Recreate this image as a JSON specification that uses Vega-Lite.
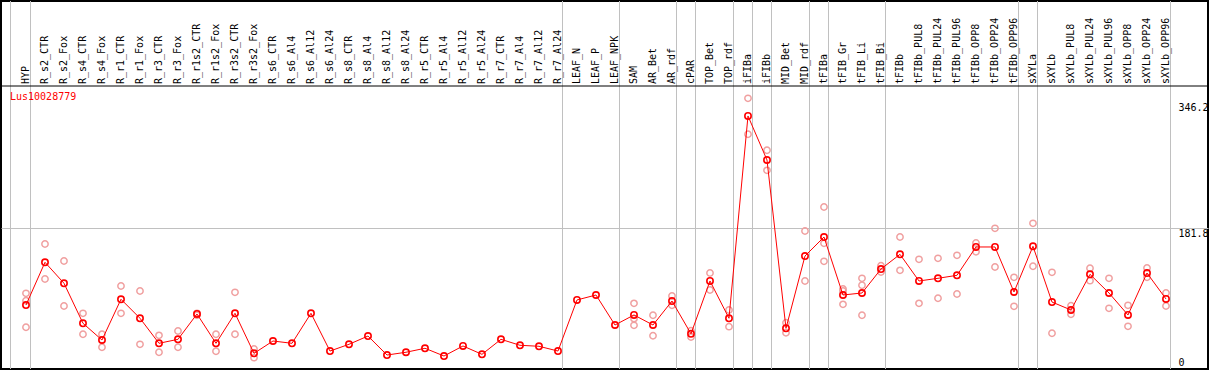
{
  "$schema": "https://vega.github.io/schema/vega-lite/v6.json",
  "width": 1207,
  "height": 368,
  "padding": 1,
  "autosize": {"type": "none"},
  "background": "white",
  "config": {"view": {"stroke": "black", "strokeWidth": 2}, "font": "DejaVu Sans Mono"},
  "title": {"text": "Lus10028779", "color": "red", "font": "DejaVu Sans Mono", "fontSize": 10, "fontWeight": "normal", "anchor": "start", "frame": "group", "orient": "top", "offset": -109, "baseline": "alphabetic", "dx": 9},
  "datasets": {
    "means": [
      {"tissue": "HYP", "value": 81.6},
      {"tissue": "R_s2_CTR", "value": 137.4},
      {"tissue": "R_s2_Fox", "value": 110.0},
      {"tissue": "R_s4_CTR", "value": 57.7},
      {"tissue": "R_s4_Fox", "value": 35.9},
      {"tissue": "R_r1_CTR", "value": 89.1},
      {"tissue": "R_r1_Fox", "value": 64.3},
      {"tissue": "R_r3_CTR", "value": 31.6},
      {"tissue": "R_r3_Fox", "value": 36.8},
      {"tissue": "R_r1s2_CTR", "value": 69.9},
      {"tissue": "R_r1s2_Fox", "value": 31.6},
      {"tissue": "R_r3s2_CTR", "value": 70.8},
      {"tissue": "R_r3s2_Fox", "value": 18.5},
      {"tissue": "R_s6_CTR", "value": 34.6},
      {"tissue": "R_s6_Al4", "value": 31.6},
      {"tissue": "R_s6_Al12", "value": 70.8},
      {"tissue": "R_s6_Al24", "value": 21.5},
      {"tissue": "R_s8_CTR", "value": 30.3},
      {"tissue": "R_s8_Al4", "value": 41.1},
      {"tissue": "R_s8_Al12", "value": 16.3},
      {"tissue": "R_s8_Al24", "value": 19.9},
      {"tissue": "R_r5_CTR", "value": 25.1},
      {"tissue": "R_r5_Al4", "value": 15.0},
      {"tissue": "R_r5_Al12", "value": 28.1},
      {"tissue": "R_r5_Al24", "value": 17.2},
      {"tissue": "R_r7_CTR", "value": 36.8},
      {"tissue": "R_r7_Al4", "value": 29.0},
      {"tissue": "R_r7_Al12", "value": 27.7},
      {"tissue": "R_r7_Al24", "value": 21.5},
      {"tissue": "LEAF_N", "value": 88.2},
      {"tissue": "LEAF_P", "value": 94.7},
      {"tissue": "LEAF_NPK", "value": 55.5},
      {"tissue": "SAM", "value": 68.6},
      {"tissue": "AR_Bet", "value": 55.5},
      {"tissue": "AR_rdf", "value": 86.8},
      {"tissue": "cPAR", "value": 44.0},
      {"tissue": "TOP_Bet", "value": 113.0},
      {"tissue": "TOP_rdf", "value": 64.3},
      {"tissue": "iFIBa", "value": 328.5},
      {"tissue": "iFIBb", "value": 271.0},
      {"tissue": "MID_Bet", "value": 51.2},
      {"tissue": "MID_rdf", "value": 145.6},
      {"tissue": "tFIBa", "value": 170.4},
      {"tissue": "tFIB_Gr", "value": 94.7},
      {"tissue": "tFIB_Li", "value": 97.3},
      {"tissue": "tFIB_Bi", "value": 128.6},
      {"tissue": "tFIBb", "value": 147.8},
      {"tissue": "tFIBb_PUL8", "value": 113.0},
      {"tissue": "tFIBb_PUL24", "value": 116.5},
      {"tissue": "tFIBb_PUL96", "value": 120.4},
      {"tissue": "tFIBb_OPP8", "value": 157.4},
      {"tissue": "tFIBb_OPP24", "value": 157.4},
      {"tissue": "tFIBb_OPP96", "value": 98.6},
      {"tissue": "sXYLa", "value": 158.3},
      {"tissue": "sXYLb", "value": 85.5},
      {"tissue": "sXYLb_PUL8", "value": 75.1},
      {"tissue": "sXYLb_PUL24", "value": 121.7},
      {"tissue": "sXYLb_PUL96", "value": 97.3},
      {"tissue": "sXYLb_OPP8", "value": 68.6},
      {"tissue": "sXYLb_OPP24", "value": 123.4},
      {"tissue": "sXYLb_OPP96", "value": 89.5}
    ],
    "reps": [
      {"tissue": "HYP", "value": 96.9}, {"tissue": "HYP", "value": 87.3}, {"tissue": "HYP", "value": 52.6},
      {"tissue": "R_s2_CTR", "value": 161.3}, {"tissue": "R_s2_CTR", "value": 115.6},
      {"tissue": "R_s2_Fox", "value": 139.1}, {"tissue": "R_s2_Fox", "value": 80.3},
      {"tissue": "R_s4_CTR", "value": 70.8}, {"tissue": "R_s4_CTR", "value": 43.4},
      {"tissue": "R_s4_Fox", "value": 43.4}, {"tissue": "R_s4_Fox", "value": 26.4},
      {"tissue": "R_r1_CTR", "value": 106.4}, {"tissue": "R_r1_CTR", "value": 70.8},
      {"tissue": "R_r1_Fox", "value": 99.9}, {"tissue": "R_r1_Fox", "value": 30.3},
      {"tissue": "R_r3_CTR", "value": 42.0}, {"tissue": "R_r3_CTR", "value": 19.9},
      {"tissue": "R_r3_Fox", "value": 47.7}, {"tissue": "R_r3_Fox", "value": 26.4},
      {"tissue": "R_r1s2_CTR", "value": 70.8}, {"tissue": "R_r1s2_CTR", "value": 68.2},
      {"tissue": "R_r1s2_Fox", "value": 43.4}, {"tissue": "R_r1s2_Fox", "value": 21.2},
      {"tissue": "R_r3s2_CTR", "value": 98.2}, {"tissue": "R_r3s2_CTR", "value": 43.4},
      {"tissue": "R_r3s2_Fox", "value": 24.2}, {"tissue": "R_r3s2_Fox", "value": 12.8},
      {"tissue": "SAM", "value": 83.8}, {"tissue": "SAM", "value": 63.8}, {"tissue": "SAM", "value": 55.1},
      {"tissue": "AR_Bet", "value": 68.2}, {"tissue": "AR_Bet", "value": 41.5},
      {"tissue": "AR_rdf", "value": 93.4}, {"tissue": "AR_rdf", "value": 81.2},
      {"tissue": "cPAR", "value": 48.1}, {"tissue": "cPAR", "value": 39.8},
      {"tissue": "TOP_Bet", "value": 123.4}, {"tissue": "TOP_Bet", "value": 101.2},
      {"tissue": "TOP_rdf", "value": 75.1}, {"tissue": "TOP_rdf", "value": 53.3},
      {"tissue": "iFIBa", "value": 351.6}, {"tissue": "iFIBa", "value": 304.6},
      {"tissue": "iFIBb", "value": 283.7}, {"tissue": "iFIBb", "value": 257.5},
      {"tissue": "MID_Bet", "value": 58.5}, {"tissue": "MID_Bet", "value": 45.4},
      {"tissue": "MID_rdf", "value": 178.3}, {"tissue": "MID_rdf", "value": 113.0},
      {"tissue": "tFIBa", "value": 209.6}, {"tissue": "tFIBa", "value": 162.2}, {"tissue": "tFIBa", "value": 138.7},
      {"tissue": "tFIB_Gr", "value": 102.5}, {"tissue": "tFIB_Gr", "value": 99.9}, {"tissue": "tFIB_Gr", "value": 82.5},
      {"tissue": "tFIB_Li", "value": 116.5}, {"tissue": "tFIB_Li", "value": 107.4}, {"tissue": "tFIB_Li", "value": 68.2},
      {"tissue": "tFIB_Bi", "value": 133.0}, {"tissue": "tFIB_Bi", "value": 124.7},
      {"tissue": "tFIBb", "value": 170.4}, {"tissue": "tFIBb", "value": 126.9},
      {"tissue": "tFIBb_PUL8", "value": 141.3}, {"tissue": "tFIBb_PUL8", "value": 83.8},
      {"tissue": "tFIBb_PUL24", "value": 142.6}, {"tissue": "tFIBb_PUL24", "value": 90.4},
      {"tissue": "tFIBb_PUL96", "value": 146.5}, {"tissue": "tFIBb_PUL96", "value": 96.0},
      {"tissue": "tFIBb_OPP8", "value": 162.6}, {"tissue": "tFIBb_OPP8", "value": 151.2},
      {"tissue": "tFIBb_OPP24", "value": 181.8}, {"tissue": "tFIBb_OPP24", "value": 131.3},
      {"tissue": "tFIBb_OPP96", "value": 117.8}, {"tissue": "tFIBb_OPP96", "value": 79.9},
      {"tissue": "sXYLa", "value": 188.3}, {"tissue": "sXYLa", "value": 132.2},
      {"tissue": "sXYLb", "value": 124.3}, {"tissue": "sXYLb", "value": 44.7},
      {"tissue": "sXYLb_PUL8", "value": 80.7}, {"tissue": "sXYLb_PUL8", "value": 69.5},
      {"tissue": "sXYLb_PUL24", "value": 129.6}, {"tissue": "sXYLb_PUL24", "value": 113.4},
      {"tissue": "sXYLb_PUL96", "value": 116.5}, {"tissue": "sXYLb_PUL96", "value": 77.3},
      {"tissue": "sXYLb_OPP8", "value": 81.2}, {"tissue": "sXYLb_OPP8", "value": 53.8},
      {"tissue": "sXYLb_OPP24", "value": 130.0}, {"tissue": "sXYLb_OPP24", "value": 117.8},
      {"tissue": "sXYLb_OPP96", "value": 97.3}, {"tissue": "sXYLb_OPP96", "value": 80.3}
    ],
    "groups": [
      {"tissue": "HYP"}, {"tissue": "R_r7_Al24"}, {"tissue": "LEAF_NPK"}, {"tissue": "AR_rdf"},
      {"tissue": "cPAR"}, {"tissue": "TOP_rdf"}, {"tissue": "iFIBa"}, {"tissue": "iFIBb"},
      {"tissue": "MID_rdf"}, {"tissue": "tFIBa"}, {"tissue": "tFIB_Bi"}, {"tissue": "tFIBb_OPP96"},
      {"tissue": "sXYLa"}, {"tissue": "sXYLb_OPP96"}
    ],
    "start": [{"tissue": "HYP"}]
  },
  "layer": [
    {
      "data": {"name": "groups"},
      "mark": {"type": "rule", "color": "#c0c0c0", "strokeWidth": 1, "xOffset": 4.5},
      "encoding": {
        "x": {
          "field": "tissue", "type": "nominal", "sort": null,
          "scale": {
            "type": "point", "padding": 0.763, "align": 0.862, "round": false,
            "domain": ["HYP","R_s2_CTR","R_s2_Fox","R_s4_CTR","R_s4_Fox","R_r1_CTR","R_r1_Fox","R_r3_CTR","R_r3_Fox","R_r1s2_CTR","R_r1s2_Fox","R_r3s2_CTR","R_r3s2_Fox","R_s6_CTR","R_s6_Al4","R_s6_Al12","R_s6_Al24","R_s8_CTR","R_s8_Al4","R_s8_Al12","R_s8_Al24","R_r5_CTR","R_r5_Al4","R_r5_Al12","R_r5_Al24","R_r7_CTR","R_r7_Al4","R_r7_Al12","R_r7_Al24","LEAF_N","LEAF_P","LEAF_NPK","SAM","AR_Bet","AR_rdf","cPAR","TOP_Bet","TOP_rdf","iFIBa","iFIBb","MID_Bet","MID_rdf","tFIBa","tFIB_Gr","tFIB_Li","tFIB_Bi","tFIBb","tFIBb_PUL8","tFIBb_PUL24","tFIBb_PUL96","tFIBb_OPP8","tFIBb_OPP24","tFIBb_OPP96","sXYLa","sXYLb","sXYLb_PUL8","sXYLb_PUL24","sXYLb_PUL96","sXYLb_OPP8","sXYLb_OPP24","sXYLb_OPP96"," ","  "]
          },
          "axis": {
            "orient": "top", "offset": -84.5, "title": null, "labelAngle": 270,
            "labelFont": "DejaVu Sans Mono", "labelFontSize": 10, "labelColor": "black",
            "labelPadding": 2, "ticks": false, "domain": true, "domainColor": "black", "domainWidth": 1,
            "grid": false, "labelOverlap": false, "labelLimit": 0, "zindex": 1
          }
        }
      }
    },
    {
      "data": {"name": "start"},
      "mark": {"type": "rule", "color": "#c0c0c0", "strokeWidth": 1, "xOffset": -15.5},
      "encoding": {"x": {"field": "tissue", "type": "nominal"}}
    },
    {
      "data": {"name": "reps"},
      "mark": {"type": "point", "filled": false, "color": "#f0a0a0", "size": 40, "strokeWidth": 1.5, "opacity": 1},
      "encoding": {
        "x": {"field": "tissue", "type": "nominal"},
        "y": {
          "field": "value", "type": "quantitative",
          "scale": {"domain": [-1.96, 478.66], "nice": false, "zero": false},
          "axis": {
            "orient": "left", "offset": 0, "values": [0, 181.8, 346.2], "format": ".1~f",
            "title": null, "ticks": false, "labelAlign": "left", "labelPadding": -1177,
            "labelFont": "DejaVu Sans Mono", "labelFontSize": 10, "labelColor": "black",
            "labelBaseline": {"condition": {"test": "datum.value === 0", "value": "bottom"}, "value": "top"},
            "labelFlush": false, "labelOverlap": false, "labelBound": false,
            "domain": false,
            "grid": true, "gridColor": "#c0c0c0",
            "gridOpacity": {"condition": {"test": "datum.value === 181.8", "value": 1}, "value": 0}
          }
        }
      }
    },
    {
      "data": {"name": "means"},
      "mark": {"type": "line", "color": "red", "strokeWidth": 1},
      "encoding": {"x": {"field": "tissue", "type": "nominal"}, "y": {"field": "value", "type": "quantitative"}}
    },
    {
      "data": {"name": "means"},
      "mark": {"type": "point", "filled": false, "color": "red", "size": 40, "strokeWidth": 1.6, "opacity": 1},
      "encoding": {"x": {"field": "tissue", "type": "nominal"}, "y": {"field": "value", "type": "quantitative"}}
    }
  ]
}
